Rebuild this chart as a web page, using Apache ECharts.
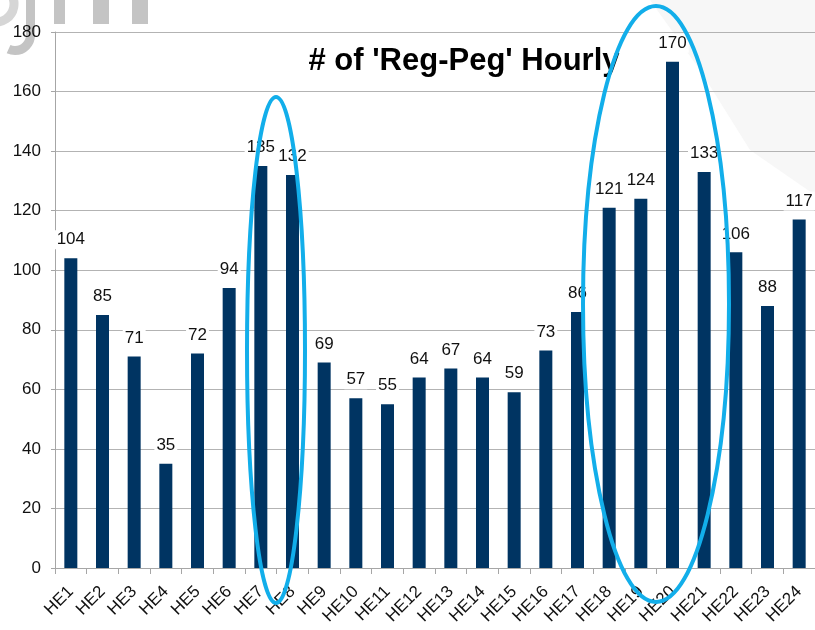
<!DOCTYPE html>
<html>
<head>
<meta charset="utf-8">
<title>Reg-Peg Hourly</title>
<script src="https://cdn.jsdelivr.net/npm/echarts@6/dist/echarts.min.js"></script>
<style>
html,body{margin:0;padding:0;background:#fff;}
#chart{width:815px;height:630px;}
</style>
</head>
<body>
<div id="chart"></div>
<script>
// hours and counts
var hours = ['HE1','HE2','HE3','HE4','HE5','HE6','HE7','HE8','HE9','HE10','HE11','HE12',
             'HE13','HE14','HE15','HE16','HE17','HE18','HE19','HE20','HE21','HE22','HE23','HE24'];
var counts = [104, 85, 71, 35, 72, 94, 135, 132, 69, 57, 55, 64,
              67, 64, 59, 73, 86, 121, 124, 170, 133, 106, 88, 117];
var yTicks = [0, 20, 40, 60, 80, 100, 120, 140, 160, 180];

(function(){
var chart = echarts.init(document.getElementById("chart"));

var option = {
    backgroundColor: '#fff',
    animation: false,
    textStyle: {fontFamily: 'Liberation Sans, Arial, sans-serif'},
    title: {
        text: "# of 'Reg-Peg' Hourly",
        left: 459,
        top: 41,
        textAlign: 'center',
        textStyle: {fontSize: 31, fontWeight: 'bold', color: '#000', fontFamily: 'Liberation Sans, Arial, sans-serif'}
    },
    grid: {
        left: 55,
        right: 0,
        top: 32,
        bottom: 62,
        containLabel: false
    },
    xAxis: {
        type: 'category',
        data: hours,
        axisLine: {lineStyle: {color: '#a6a6a6', width: 1}},
        axisTick: {show: true, length: 6, lineStyle: {color: '#a6a6a6'}},
        axisLabel: {
            interval: 0,
            rotate: 45,
            fontSize: 17,
            color: '#111',
            margin: 21
        }
    },
    yAxis: {
        type: 'value',
        min: yTicks[0],
        max: yTicks[yTicks.length - 1],
        interval: 20,
        axisLine: {show: true, lineStyle: {color: '#a6a6a6'}},
        axisTick: {show: true, length: 4, lineStyle: {color: '#a6a6a6'}},
        axisLabel: {fontSize: 17, color: '#111', margin: 14},
        splitLine: {lineStyle: {color: '#b3b3b3', width: 1}}
    },
    series: [
        {
            type: 'bar',
            data: counts,
            barWidth: 13,
            itemStyle: {color: '#003462'},
            label: {
                show: true,
                position: 'top',
                distance: 9,
                fontSize: 17,
                color: '#111',
                backgroundColor: '#fff',
                padding: [1, 2]
            }
        }
    ],
    graphic: [
        // faded background pieces: logo top left, swoosh top right
        {type: 'group', silent: true, z: -1, children: [
            {type: 'polygon', shape: {points: [[650, 0], [815, 0], [815, 195], [750, 150], [700, 70]]},
             style: {fill: '#f7f7f7'}},
            {type: 'arc', shape: {cx: -4, cy: 4, r: 18, startAngle: -0.6, endAngle: 1.4},
             style: {stroke: '#d6d6d6', lineWidth: 9, fill: null}},
            {type: 'rect', shape: {x: 26, y: 0, width: 9, height: 36}, style: {fill: '#c4c4c4'}},
            {type: 'arc', shape: {cx: 15, cy: 35, r: 15.5, startAngle: 0, endAngle: 2.0},
             style: {stroke: '#c4c4c4', lineWidth: 9, fill: null}},
            {type: 'rect', shape: {x: 54, y: 0, width: 11, height: 24}, style: {fill: '#c4c4c4'}},
            {type: 'rect', shape: {x: 93, y: 0, width: 16, height: 24}, style: {fill: '#c4c4c4'}},
            {type: 'rect', shape: {x: 132, y: 0, width: 16, height: 24}, style: {fill: '#c4c4c4'}}
        ]},
        // highlight ellipses
        {type: 'ellipse', z: 100, silent: true,
         shape: {cx: 276, cy: 350, rx: 29, ry: 253},
         style: {fill: null, stroke: '#12aeea', lineWidth: 4}},
        {type: 'ellipse', z: 100, silent: true,
         shape: {cx: 656, cy: 304, rx: 73, ry: 298},
         style: {fill: null, stroke: '#12aeea', lineWidth: 4}}
    ]
};

chart.setOption(option);
})();
</script>
</body>
</html>
